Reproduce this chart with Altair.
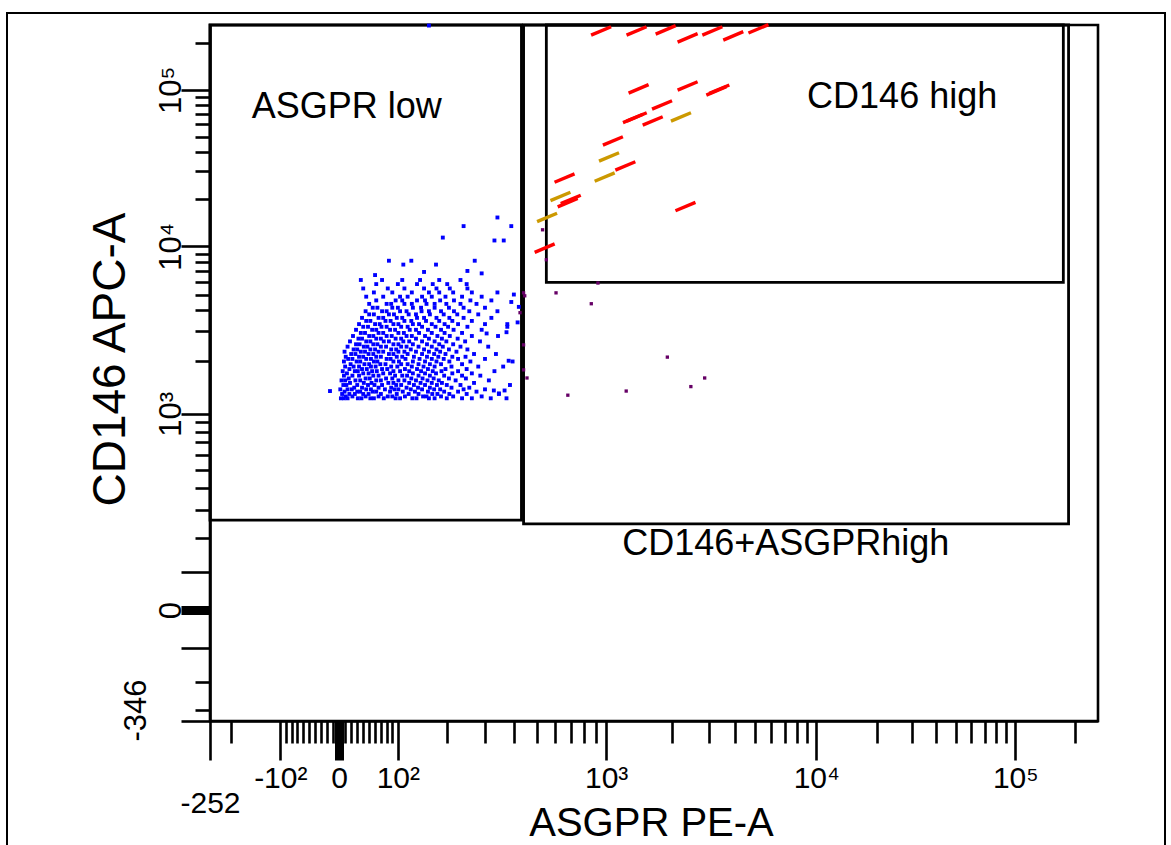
import math
import altair as alt
import pandas as pd

# ---------------- axis constants (FACSDiva-style logicle display) ----------------
T_MAX = 262144.0
M_DEC = 4.5
X_BOTTOM = -252.0
Y_BOTTOM = -346.0

# ---------------- data (values in fluorescence units) ----------------
# ASGPR-low population (blue): CD146 APC-A value -> list of ASGPR PE-A values
blue_rows = {
    1220: [3, 8, 14, 31, 37, 52, 58, 75, 96, 104, 127, 135, 160, 172, 199, 236, 262, 318, 372],
    1250: [11, 22, 44, 66, 82, 90, 113, 148, 155, 186, 214, 290],
    1290: [5, 17, 26, 40, 49, 70, 98, 120, 139, 167, 178, 205, 248, 345],
    1330: [9, 30, 35, 56, 62, 86, 109, 132, 158, 193, 226, 275],
    1370: [2, 14, 21, 45, 53, 77, 94, 101, 124, 146, 171, 184, 240, 300],
    1400: [25, 38, 66, 88, 116, 138, 162, 210, 255],
    1450: [7, 12, 30, 48, 59, 72, 97, 106, 130, 152, 177, 199, 232, 385],
    1490: [18, 41, 54, 83, 92, 121, 143, 166, 188, 268],
    1540: [4, 10, 27, 35, 62, 70, 101, 112, 134, 157, 181, 220, 312],
    1580: [16, 44, 51, 79, 90, 125, 147, 170, 204, 246],
    1640: [8, 22, 33, 57, 66, 95, 108, 117, 139, 162, 193, 236, 286],
    1690: [13, 40, 49, 74, 86, 128, 152, 175, 212, 262],
    1740: [6, 26, 31, 55, 63, 92, 104, 121, 144, 168, 187, 226, 330],
    1790: [17, 38, 46, 72, 81, 113, 136, 158, 196, 248],
    1850: [10, 24, 33, 53, 61, 88, 99, 126, 149, 172, 210, 280, 360],
    1910: [19, 42, 50, 69, 78, 106, 118, 139, 162, 186, 236],
    1980: [8, 29, 35, 58, 64, 92, 102, 128, 152, 176, 205, 258, 395],
    2050: [15, 22, 45, 53, 80, 87, 114, 141, 166, 192, 226, 300],
    2110: [11, 33, 40, 62, 70, 98, 108, 130, 156, 180, 212, 245],
    2190: [20, 27, 49, 57, 84, 92, 118, 146, 171, 196, 268, 335],
    2260: [9, 36, 43, 66, 74, 101, 112, 134, 160, 184, 222],
    2330: [24, 30, 52, 60, 88, 97, 124, 150, 176, 204, 250],
    2420: [14, 41, 47, 70, 79, 106, 116, 139, 166, 190, 232, 310],
    2500: [28, 34, 57, 64, 92, 101, 128, 156, 182, 214],
    2600: [18, 45, 52, 75, 84, 110, 121, 146, 172, 198, 244, 285],
    2700: [32, 38, 62, 70, 96, 106, 134, 160, 188, 225],
    2800: [23, 50, 57, 80, 89, 116, 126, 152, 178, 206, 262, 342],
    2920: [36, 43, 66, 74, 101, 111, 140, 166, 194, 236],
    3050: [28, 55, 62, 86, 95, 122, 134, 158, 186, 215, 290],
    3180: [40, 48, 71, 80, 106, 118, 146, 174, 202, 250, 375],
    3300: [33, 60, 68, 92, 101, 128, 140, 166, 194, 226, 300],
    3450: [45, 52, 78, 87, 112, 125, 154, 182, 212, 262],
    3600: [38, 66, 74, 98, 108, 136, 150, 176, 205, 240, 320],
    3780: [50, 58, 84, 93, 120, 134, 162, 192, 224, 280],
    3950: [44, 72, 80, 104, 116, 145, 160, 186, 216, 255, 340],
    4150: [56, 64, 90, 100, 128, 144, 172, 204, 240, 300],
    4380: [50, 80, 88, 112, 126, 155, 172, 198, 232, 275],
    4600: [62, 96, 108, 136, 152, 184, 216, 258, 320],
    4850: [45, 74, 104, 118, 146, 166, 196, 236, 290],
    5150: [58, 90, 126, 160, 182, 214, 262, 340],
    5450: [40, 82, 112, 150, 176, 206, 250],
    5800: [62, 100, 136, 168, 200, 248],
    6150: [36, 72, 108, 142, 182, 232],
}
blue_extra_x = [84, 110, 125, 175, 270, 290, 190, 330, 362, 240, 390, 340, 400, 390, 375,
                305, 380, 415, 372, 328, 345, 365, -15, 160, 250, 60, 150, 420]
blue_extra_y = [8110, 7670, 8110, 7670, 8110, 6760, 11340, 10870, 10870, 13400, 13400, 15200, 5000, 4500, 3300,
                2900, 2000, 3380, 2950, 1350, 1300, 1350, 1340, 260000, 7000, 6600, 6900, 4200]

# events between the gates (purple)
purple_x = [440, 445, 605, 860, 425, 440, 440, 455, 680, 1230, 1900, 2450, 2850, 920, 530, 550]
purple_y = [5120, 4910, 5120, 4390, 3870, 2480, 1770, 1590, 1270, 1340, 2100, 1420, 1590, 5890, 12700, 8220]

# CD146-high events (red and gold streaks)
red_x = [950, 1370, 1866, 2365, 3100, 3910, 5185, 1400, 2365, 3240, 3350,
         1373, 1320, 1795, 1625, 1072, 1219, 658, 679, 700, 541, 2310]
red_y = [240000, 240000, 243800, 216500, 240000, 223000, 247700, 101500, 106000, 98500, 101000,
         66900, 65500, 80000, 63100, 46900, 32400, 27100, 18900, 19800, 9730, 17850]
gold_x = [2200, 1030, 985, 632, 554]
gold_y = [66900, 37000, 27500, 20700, 15200]

# gates
gate_names = ["ASGPR low", "CD146+ASGPRhigh", "CD146 high"]
gate_x1 = [X_BOTTOM, 440, 550]
gate_x2 = [431, 186000, 175000]
gate_y1 = [262, 248, 5940]
gate_y2 = [T_MAX, T_MAX, T_MAX]

label_text = ["ASGPR low", "CD146 high", "CD146+ASGPRhigh"]
label_x = [-155, 9000, 1180]
label_y = [78000, 90000, 180]

# axis ticks
x_tick_values = ([-252, -200, -100] + list(range(-90, 0, 10)) + [0] + list(range(10, 100, 10)) +
                 [100, 200, 300, 400, 500, 600, 700, 800, 900,
                  1000, 2000, 3000, 4000, 5000, 6000, 7000, 8000, 9000,
                  10000, 20000, 30000, 40000, 50000, 60000, 70000, 80000, 90000,
                  100000, 200000])
x_major = [-252, -100, 0, 100, 1000, 10000, 100000]
x_label_values = [-252, -100, 0, 100, 1000, 10000, 100000]
x_label_texts = ["-252", "-10²", "0", "10²", "10³", "10⁴", "10⁵"]

y_tick_values = [-346, -300, -200, -100, 0, 100, 200, 300, 400, 500, 600, 700, 800, 900,
                 1000, 2000, 3000, 4000, 5000, 6000, 7000, 8000, 9000,
                 10000, 20000, 30000, 40000, 50000, 60000, 70000, 80000, 90000,
                 100000, 200000]
y_major = [-346, -100, 0, 100, 1000, 10000, 100000]
y_label_values = [-346, 0, 1000, 10000, 100000]
y_label_texts = ["-346", "0", "10³", "10⁴", "10⁵"]


# ---------------- logicle transform ----------------
def solve_d(b, w):
    lo, hi = 1e-12, b
    for _ in range(200):
        mid = 0.5 * (lo + hi)
        if 2 * math.log(mid / b) + w * (b + mid) > 0:
            hi = mid
        else:
            lo = mid
    return 0.5 * (lo + hi)


def logicle(W):
    w = W / M_DEC
    x1 = w
    x0 = 2 * w
    b = M_DEC * math.log(10)
    d = solve_d(b, w)
    c_a = math.exp(x0 * (b + d))
    mf_a = math.exp(b * x1) - c_a / math.exp(d * x1)
    a = T_MAX / ((math.exp(b) - mf_a) - c_a / math.exp(d))
    return {"a": a, "b": b, "c": c_a * a, "d": d, "f": -mf_a * a, "x1": x1}


def to_data(s, p):
    neg = s < p["x1"]
    if neg:
        s = 2 * p["x1"] - s
    v = p["a"] * math.exp(p["b"] * s) - p["c"] * math.exp(-p["d"] * s) + p["f"]
    return -v if neg else v


def fit(bottom):
    lo, hi = 0.05, 2.0
    for _ in range(100):
        mid = 0.5 * (lo + hi)
        if to_data(0.0, logicle(mid)) > bottom:
            lo = mid
        else:
            hi = mid
    return logicle(0.5 * (lo + hi))


def to_display(v, p):
    lo, hi = -0.3, 1.3
    for _ in range(80):
        mid = 0.5 * (lo + hi)
        if to_data(mid, p) < v:
            lo = mid
        else:
            hi = mid
    return round(0.5 * (lo + hi), 6) + 0.0


PX = fit(X_BOTTOM)
PY = fit(Y_BOTTOM)


def dx(v):
    return to_display(v, PX)


def dy(v):
    return to_display(v, PY)


def arr(vals):
    return "[" + ",".join(repr(v) for v in vals) + "]"


# ---------------- tables ----------------
blue_x = [x for yv, xs in blue_rows.items() for x in xs] + blue_extra_x
blue_y = [yv for yv, xs in blue_rows.items() for x in xs] + blue_extra_y
df_blue = pd.DataFrame({"xd": [dx(v) for v in blue_x], "yd": [dy(v) for v in blue_y]})
df_purple = pd.DataFrame({"xd": [dx(v) for v in purple_x], "yd": [dy(v) for v in purple_y]})
df_dash = pd.DataFrame({
    "xd": [dx(v) for v in red_x + gold_x],
    "yd": [dy(v) for v in red_y + gold_y],
    "kind": ["red"] * len(red_x) + ["gold"] * len(gold_x),
})
df_gate = pd.DataFrame({
    "gate": gate_names,
    "x1": [dx(v) for v in gate_x1], "x2": [dx(v) for v in gate_x2],
    "y1": [dy(v) for v in gate_y1], "y2": [dy(v) for v in gate_y2],
})
df_label = pd.DataFrame({"text": label_text,
                         "xd": [dx(v) for v in label_x], "yd": [dy(v) for v in label_y]})

# ---------------- axes ----------------
SANS = "Liberation Sans, Arial, sans-serif"

x_major_test = f"indexof({arr([dx(v) for v in x_major])}, datum.value) >= 0"
x_label_expr = "".join(f"datum.value === {dx(v)!r} ? '{t}' : "
                       for v, t in zip(x_label_values, x_label_texts)) + "''"
y_major_test = f"indexof({arr([dy(v) for v in y_major])}, datum.value) >= 0"
y_label_expr = "".join(f"datum.value === {dy(v)!r} ? '{t}' : "
                       for v, t in zip(y_label_values, y_label_texts)) + "''"

x_axis = alt.Axis(
    values=[dx(v) for v in x_tick_values], labelExpr=x_label_expr,
    tickSize={"condition": {"test": x_major_test, "value": 39}, "value": 22},
    tickWidth={"condition": {"test": f"datum.value === {dx(0)!r}", "value": 9}, "value": 2.6},
    labelPadding={"condition": {"test": f"datum.value === {dx(X_BOTTOM)!r}", "value": 28}, "value": 3},
    labelAngle=0, labelAlign="center", labelBaseline="top",
    labelFont=SANS, labelFontSize=30, labelColor="black",
    labelOverlap=False, labelFlush=False, labelBound=False,
    domainColor="black", domainWidth=2.6, tickColor="black", grid=False,
    title="ASGPR PE-A", titleFont=SANS, titleFontSize=40, titleFontWeight="normal",
    titleColor="black", titleX=441, titleY=114, titleAlign="center",
    titleBaseline="alphabetic", titleAngle=0,
)
y_axis = alt.Axis(
    values=[dy(v) for v in y_tick_values], labelExpr=y_label_expr,
    tickSize={"condition": {"test": y_major_test, "value": 29}, "value": 15},
    tickWidth={"condition": {"test": f"datum.value === {dy(0)!r}", "value": 9}, "value": 2.6},
    labelPadding={"condition": {"test": f"datum.value === {dy(Y_BOTTOM)!r}", "value": 36}, "value": 1},
    labelOffset={"condition": {"test": f"datum.value === {dy(Y_BOTTOM)!r}", "value": -11}, "value": 0},
    labelAngle=270, labelAlign="center", labelBaseline="alphabetic",
    labelFont=SANS, labelFontSize=31, labelColor="black",
    labelOverlap=False, labelFlush=False, labelBound=False,
    domainColor="black", domainWidth=2.6, tickColor="black", grid=False,
    title="CD146 APC-A", titleFont=SANS, titleFontSize=46, titleFontWeight="normal",
    titleColor="black", titleX=-100, titleY=334, titleAlign="center",
    titleBaseline="middle", titleAngle=270,
)

xs = alt.Scale(domain=[0, 1], nice=False, zero=False)
ys = alt.Scale(domain=[0, 1], nice=False, zero=False)


def X(field):
    return alt.X(field, type="quantitative", scale=xs, axis=x_axis)


def Y(field):
    return alt.Y(field, type="quantitative", scale=ys, axis=y_axis)


# ---------------- layers ----------------
border = alt.Chart(alt.Data(values=[{"a": 1}])).mark_rect(
    fillOpacity=0, stroke="black", strokeWidth=2
).encode(x=alt.value(-203), x2=alt.value(955), y=alt.value(-12), y2=alt.value(830))

gates = alt.Chart(df_gate).mark_rect(
    fillOpacity=0, stroke="black", strokeWidth=2.8
).encode(x=X("x1"), x2="x2", y=Y("y1"), y2="y2")

blue = alt.Chart(df_blue).mark_square(size=15, color="#0000ff", opacity=1).encode(x=X("xd"), y=Y("yd"))
purple = alt.Chart(df_purple).mark_square(size=11, color="#660066", opacity=1).encode(x=X("xd"), y=Y("yd"))
dashes = alt.Chart(df_dash).mark_point(
    shape="M -1 0.42 L 1 -0.42", filled=False, strokeWidth=3.4, size=400, opacity=1
).encode(
    x=X("xd"), y=Y("yd"),
    color=alt.Color("kind:N", scale=alt.Scale(domain=["red", "gold"], range=["#ff0000", "#cc9900"]),
                    legend=None),
)
texts = alt.Chart(df_label).mark_text(
    align="left", baseline="middle", font=SANS, fontSize=36, color="black"
).encode(x=X("xd"), y=Y("yd"), text="text:N")

chart = alt.layer(border, gates, blue, purple, dashes, texts).properties(
    width=888, height=696,
    padding={"left": 210, "top": 25, "right": 73, "bottom": 124},
    autosize=alt.AutoSizeParams(type="none"),
    background="white",
).configure_view(stroke="black", strokeWidth=2.6)

chart.save("out.html", embed_options={"renderer": "svg", "actions": False})
